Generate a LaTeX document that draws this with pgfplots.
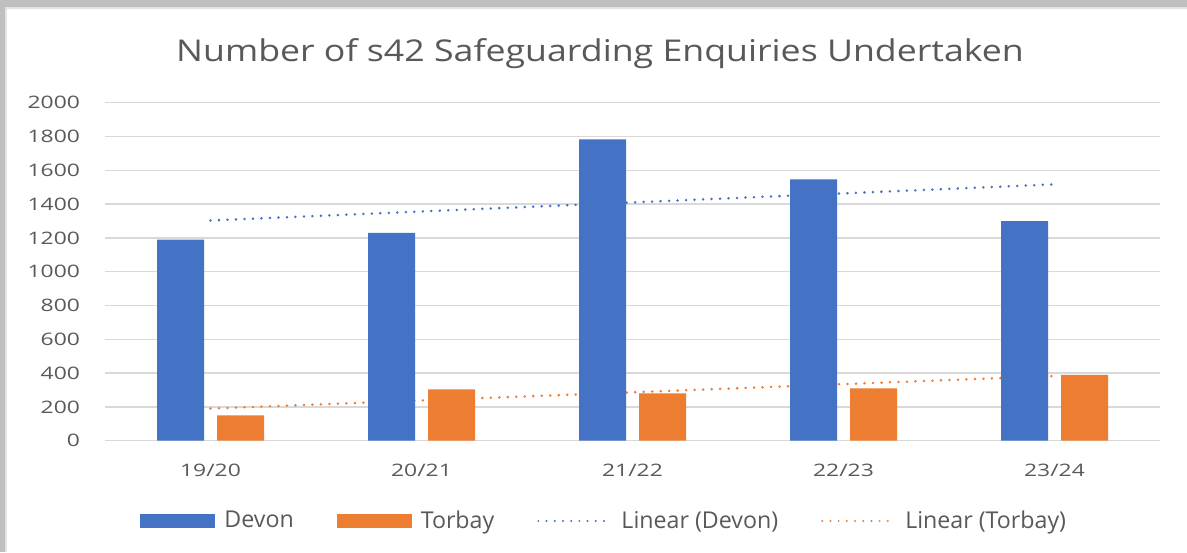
\documentclass[border=0pt]{standalone}
\usepackage{fontspec}
\setmainfont{Open Sans}
\newfontfamily\tickfont{Open Sans}[FakeStretch=1.33]
\newfontfamily\titlefont{Open Sans}[FakeStretch=1.19]
\usepackage{pgfplots}
\pgfplotsset{compat=1.18}
\definecolor{devon}{HTML}{4472C4}
\definecolor{torbay}{HTML}{ED7D31}
\definecolor{gridgray}{HTML}{D9D9D9}
\definecolor{txt}{HTML}{595959}
\definecolor{bandgray}{HTML}{BFBFBF}
\definecolor{bandlight}{HTML}{E3E3E3}
\pgfplotsset{
  trend/.style={line width=1.4pt, line cap=round, dash pattern=on 0pt off 4.25pt},
  barlegend/.style={legend image code/.code={\fill[##1] (0pt,-3.5pt) rectangle (37.5pt,3.5pt);}},
  linelegend/.style={legend image code/.code={\draw[##1, line width=1.1pt, line cap=round, dash pattern=on 0pt off 4.1pt] (1pt,0pt) -- (37.5pt,0pt);}},
}
\begin{document}
\begin{tikzpicture}
\path[use as bounding box] (0,0) rectangle (593.5pt,276pt);
\fill[white] (0,0) rectangle (593.5pt,276pt);
\fill[bandgray] (0,272.5pt) rectangle (593.5pt,276pt);
\fill[bandgray] (0,0) rectangle (2.5pt,276pt);
\fill[bandlight] (2.5pt,0) rectangle (3.5pt,272.5pt);
\fill[bandlight] (2.5pt,271.5pt) rectangle (593.5pt,272.5pt);
\node[anchor=base, text=txt, font=\titlefont\fontsize{15}{17}\selectfont] at (300pt,245pt) {Number of s42 Safeguarding Enquiries Undertaken};
\begin{axis}[
  at={(52.5pt,55.65pt)}, anchor=south west,
  scale only axis, width=527.5pt, height=169pt,
  xmin=-0.5, xmax=4.5, ymin=0, ymax=2000,
  ytick={0,200,...,2000},
  xtick={0,1,2,3,4},
  xticklabels={19/20,20/21,21/22,22/23,23/24},
  axis line style={draw=none},
  tick style={draw=none},
  major tick length=0pt,
  ymajorgrids,
  grid style={gridgray, line width=0.75pt},
  /pgf/number format/assume math mode=true,
  /pgf/number format/1000 sep={},
  tick label style={font=\tickfont\fontsize{8.6}{10}\selectfont, text=txt},
  yticklabel style={xshift=-9pt},
  xticklabel style={yshift=-8pt},
  clip=false,
  legend columns=4,
  legend cell align=left,
  legend style={at={(0.0332,-0.2376)}, anchor=west, draw=none, fill=none,
    inner sep=0pt, font=\fontsize{11.6}{13}\selectfont, text=txt,
    /tikz/every odd column/.append style={column sep=2.5pt},
    /tikz/every even column/.append style={column sep=19.5pt}},
]
% trend lines (drawn behind bars)
\addplot[trend, devon, forget plot] coordinates {(0,1303) (4,1517)};
\addplot[trend, torbay, forget plot] coordinates {(0,190) (4,383)};
% bars
\addplot[ybar, fill=devon, draw=none, bar width=23.5pt, bar shift=-15pt, barlegend]
  coordinates {(0,1190) (1,1230) (2,1783) (3,1547) (4,1300)};
\addlegendentry{Devon}
\addplot[ybar, fill=torbay, draw=none, bar width=23.5pt, bar shift=15pt, barlegend]
  coordinates {(0,150) (1,304) (2,280) (3,310) (4,389)};
\addlegendentry{Torbay}
\addlegendimage{devon, linelegend}
\addlegendentry{Linear (Devon)}
\addlegendimage{torbay, linelegend}
\addlegendentry{Linear (Torbay)}
\end{axis}
\end{tikzpicture}
\end{document}
